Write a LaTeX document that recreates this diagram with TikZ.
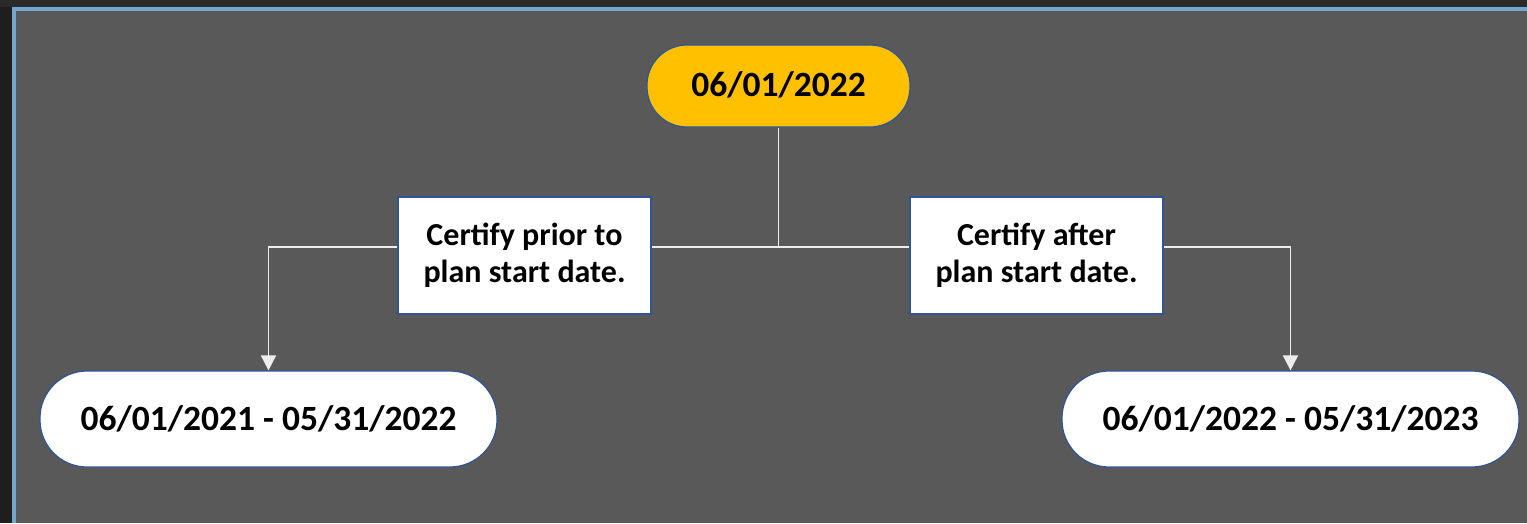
\documentclass[tikz,border=0pt]{standalone}
\usepackage{fontspec}
\setmainfont{Carlito}
\usetikzlibrary{arrows.meta}
\definecolor{bgdark}{HTML}{2A2A2A}
\definecolor{bgleft}{HTML}{1E1E1E}
\definecolor{frameblue}{HTML}{74A7D0}
\definecolor{panel}{HTML}{595959}
\definecolor{gold}{HTML}{FFC000}
\definecolor{edgeblue}{HTML}{2F5597}
\definecolor{linegray}{HTML}{EDEDED}
\tikzset{
  pill/.style={draw=edgeblue, line width=1.2pt, rounded corners=47pt, minimum height=96pt, inner sep=0pt, align=center, font=\bfseries\fontsize{35.5}{40}\selectfont, text=black},
  topbox/.style={pill, fill=gold, rounded corners=40pt, minimum height=82pt, minimum width=263pt},
  datebox/.style={pill, fill=white, minimum width=457pt},
  certbox/.style={draw=edgeblue, line width=1.2pt, fill=white, minimum width=253pt, minimum height=117pt, inner sep=0pt, align=center, font=\bfseries\fontsize{32}{37}\selectfont, text=black},
  conn/.style={draw=linegray, line width=1.8pt},
  arr/.style={conn, -{Triangle[width=15pt,length=15pt]}}
}
\begin{document}
\begin{tikzpicture}[x=1pt,y=-1pt]
\useasboundingbox (0,0) rectangle (1527,523);
\fill[bgleft] (0,0) rectangle (1527,523);
\fill[bgdark] (0,0) rectangle (1527,7);
\fill[frameblue] (12,7) rectangle (1527,523);
\fill[panel] (16,11) rectangle (1527,523);

\node[topbox] (top) at (778.5,86) {\raisebox{3pt}{06/01/2022}};
\node[certbox] (cl) at (524.5,255.5) {Certify prior to\\plan start date.};
\node[certbox] (cr) at (1036.5,255.5) {Certify after\\plan start date.};
\node[datebox] (dl) at (268.5,419) {06/01/2021 - 05/31/2022};
\node[datebox] (dr) at (1290.5,419) {06/01/2022 - 05/31/2023};

\coordinate (mid) at (top.south |- 0,247);
\draw[conn] (top.south) -- (mid);
\draw[conn] (cl.east |- mid) -- (cr.west |- mid);
\draw[arr] (cl.west |- mid) -| (dl.north);
\draw[arr] (cr.east |- mid) -| (dr.north);
\end{tikzpicture}
\end{document}
